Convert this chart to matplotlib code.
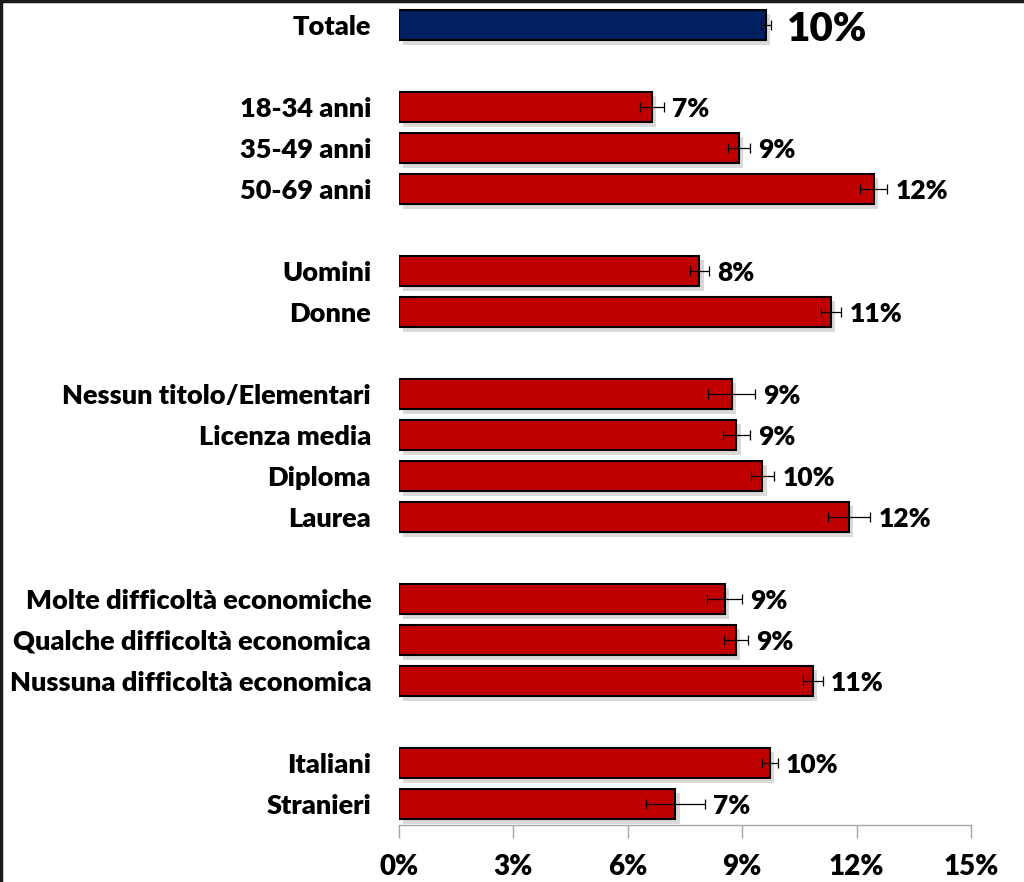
import matplotlib
matplotlib.use("Agg")
import matplotlib.pyplot as plt
import matplotlib.patheffects as pe
from matplotlib.lines import Line2D
from matplotlib.ticker import FuncFormatter
import numpy as np

plt.rcParams['font.family'] = ['Lato', 'DejaVu Sans']
plt.rcParams['font.weight'] = 'heavy'

# data (None = gap row between groups)
categories = ['Totale', None,
              '18-34 anni', '35-49 anni', '50-69 anni', None,
              'Uomini', 'Donne', None,
              'Nessun titolo/Elementari', 'Licenza media', 'Diploma', 'Laurea', None,
              'Molte difficoltà economiche', 'Qualche difficoltà economica',
              'Nussuna difficoltà economica', None,
              'Italiani', 'Stranieri']
values = [9.63, None,
          6.63, 8.92, 12.45, None,
          7.88, 11.33, None,
          8.72, 8.85, 9.53, 11.80, None,
          8.54, 8.83, 10.85, None,
          9.72, 7.25]
errors = [0.13, None,
          0.31, 0.28, 0.35, None,
          0.25, 0.26, None,
          0.61, 0.35, 0.31, 0.55, None,
          0.45, 0.31, 0.26, None,
          0.21, 0.77]
xticks = [0, 3, 6, 9, 12, 15]

fig = plt.figure(figsize=(10.24, 8.82), dpi=100)
ax = fig.add_axes([399 / 1024, 57.5 / 882, 572 / 1024, 820 / 882])

shadow = [pe.SimplePatchShadow(offset=(3, -3), shadow_rgbFace='#a0a0a0', alpha=0.4), pe.Normal()]

for i, (cat, v, e) in enumerate(zip(categories, values, errors)):
    if cat is None:
        continue
    color = '#002060' if i == 0 else '#C00000'
    ax.barh(i, v, height=0.75, color=color, edgecolor='black', linewidth=1.5,
            path_effects=shadow, zorder=2)
    ax.errorbar(v, i, xerr=e, fmt='none', ecolor='black', elinewidth=0.9,
                capsize=3.3, capthick=0.9, zorder=3)
    lbl = f'{round(v):.0f}%'
    if i == 0:
        ax.text(v + 0.55, i + 0.12, lbl, fontsize=29, fontweight='heavy', va='center', ha='left')
    else:
        ax.text(v + e + 0.22, i + 0.05, lbl, fontsize=19, fontweight='heavy', va='center', ha='left')

rows = [i for i, c in enumerate(categories) if c is not None]
ax.set_yticks(rows)
ax.set_yticklabels([categories[i] for i in rows], fontsize=19.5, fontweight='heavy')
ax.set_ylim(len(categories) - 0.5, -0.5)
ax.set_xlim(0, 15)
ax.set_xticks(xticks)
ax.xaxis.set_major_formatter(FuncFormatter(lambda x, p: f'{x:.0f}%'))
for t in ax.get_xticklabels():
    t.set_fontsize(20)
    t.set_fontweight('heavy')

ax.tick_params(axis='y', length=0, pad=20)
ax.tick_params(axis='x', length=9, width=1, color='#a6a6a6', pad=12)
for s in ['top', 'right', 'left']:
    ax.spines[s].set_visible(False)
ax.spines['bottom'].set_color('#a6a6a6')
ax.spines['bottom'].set_linewidth(1)

# frame lines on top and left edge of the picture
fig.add_artist(Line2D([0.001, 0.001], [0, 1], color='#1a1a1a', linewidth=2.5, transform=fig.transFigure))
fig.add_artist(Line2D([0, 1], [0.999, 0.999], color='#1a1a1a', linewidth=2.5, transform=fig.transFigure))

fig.savefig('out.png', dpi=100)
